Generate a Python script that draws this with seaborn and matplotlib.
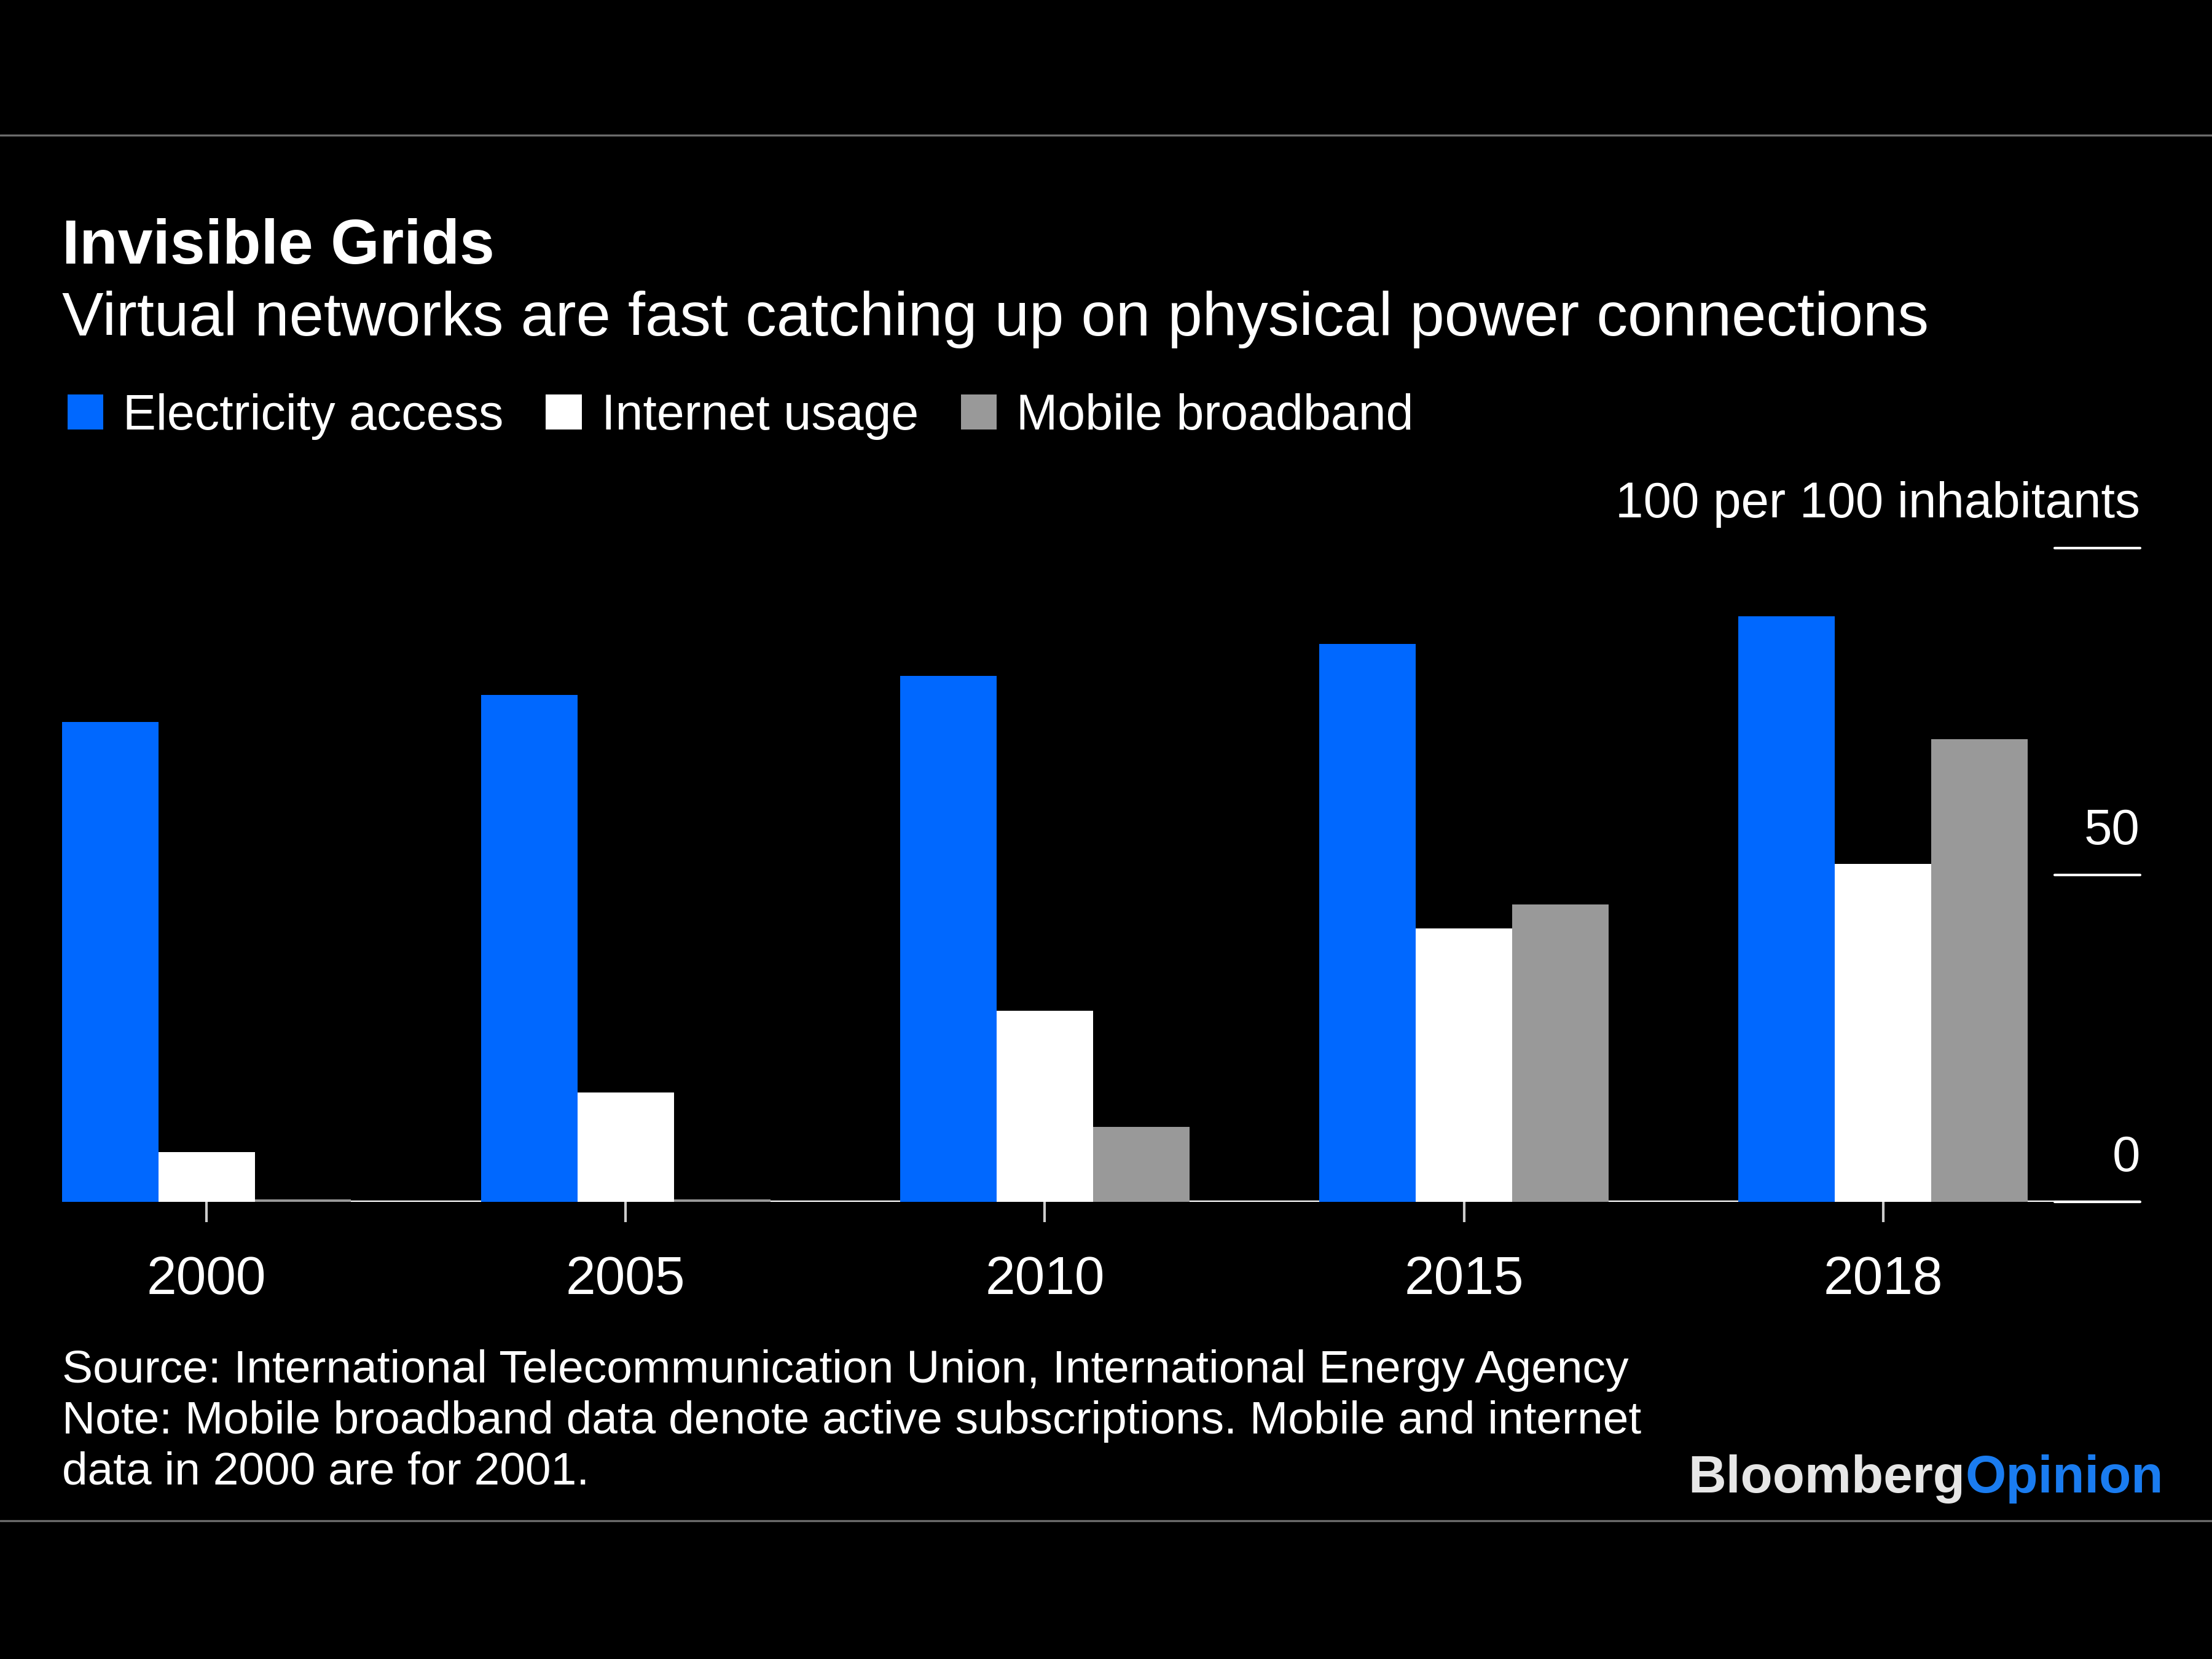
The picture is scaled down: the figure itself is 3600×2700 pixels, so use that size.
import matplotlib
matplotlib.use("Agg")
import matplotlib.pyplot as plt
from matplotlib.patches import Patch
from matplotlib.lines import Line2D
import seaborn as sns
import pandas as pd

years = ["2000", "2005", "2010", "2015", "2018"]
series = ["Electricity access", "Internet usage", "Mobile broadband"]
electricity = [73.4, 77.5, 80.5, 85.3, 89.6]
internet = [7.6, 16.7, 29.2, 41.8, 51.7]
mobile = [0.4, 0.4, 11.5, 45.5, 70.8]
yticks = [0, 50, 100]
ytick_labels = ["0", "50", "100 per 100 inhabitants"]
colors = ["#0068ff", "#ffffff", "#999999"]

title = "Invisible Grids"
subtitle = "Virtual networks are fast catching up on physical power connections"
source_lines = [
    "Source: International Telecommunication Union, International Energy Agency",
    "Note: Mobile broadband data denote active subscriptions. Mobile and internet",
    "data in 2000 are for 2001.",
]

df = pd.DataFrame({
    "year": years * 3,
    "series": [series[0]] * 5 + [series[1]] * 5 + [series[2]] * 5,
    "value": electricity + internet + mobile,
})

sns.set_theme(style="white")
plt.rcParams["font.family"] = ["Liberation Sans", "DejaVu Sans"]
BG = "#000000"
FG = "#ffffff"

fig = plt.figure(figsize=(12, 9), dpi=300, facecolor=BG)
ax = fig.add_axes([0.028, 0.2756, 0.9395, 0.394])
ax.set_facecolor(BG)

sns.barplot(data=df, x="year", y="value", hue="series", hue_order=series,
            palette=colors, saturation=1, width=0.69, dodge=True, gap=0,
            linewidth=0, legend=False, ax=ax, zorder=3)

ax.set_xlim(-0.345, 4.613)
ax.set_ylim(0, 100)
for s in ax.spines.values():
    s.set_visible(False)
ax.axhline(0, color=FG, lw=1.3, zorder=2)

# right-side value ticks
trans = ax.get_yaxis_transform()
for v, lab in zip(yticks, ytick_labels):
    ax.plot([0.959, 1.0], [v, v], transform=trans, color=FG, lw=1.0,
            clip_on=False, zorder=4)
    ax.annotate(lab, xy=(1.0, v), xycoords=trans, xytext=(0, 8),
                textcoords="offset points", ha="right", va="bottom",
                color=FG, fontsize=19.6, annotation_clip=False)
ax.set_yticks([])
ax.set_ylabel("")
ax.set_xlabel("")
ax.tick_params(axis="x", colors="#cccccc", length=8, width=1.0, direction="out",
               pad=13, labelsize=21, labelcolor=FG, bottom=True)
ax.grid(False)

# titles
fig.text(0.028, 0.841, title, color=FG, fontsize=24.5, fontweight="bold",
         ha="left", va="baseline")
fig.text(0.028, 0.7977, subtitle, color=FG, fontsize=24.3,
         ha="left", va="baseline")

handles = [Patch(facecolor=c, edgecolor="none", label=l) for c, l in zip(colors, series)]
leg = fig.legend(handles=handles, loc="center left", bbox_to_anchor=(0.0305, 0.749),
                 ncol=3, frameon=False, fontsize=19.4, handlelength=0.72,
                 handleheight=0.72, handletextpad=0.4, columnspacing=0.85,
                 borderaxespad=0, borderpad=0)
for t in leg.get_texts():
    t.set_color(FG)

# horizontal rules
fig.add_artist(Line2D([0, 1], [0.9185, 0.9185], transform=fig.transFigure,
                      color="#6b6b6b", lw=0.8))
fig.add_artist(Line2D([0, 1], [0.0833, 0.0833], transform=fig.transFigure,
                      color="#6b6b6b", lw=0.8))

# source / note
for i, line in enumerate(source_lines):
    fig.text(0.028, 0.1665 - i * 0.0306, line, color=FG, fontsize=18,
             ha="left", va="baseline")

# logo
t2 = fig.text(0.978, 0.1004, "Opinion", color="#1a7cf0", fontsize=20.5,
              fontweight="bold", ha="right", va="baseline")
fig.canvas.draw()
bb = t2.get_window_extent()
x_left = fig.transFigure.inverted().transform((bb.x0, bb.y0))[0]
fig.text(x_left, 0.1004, "Bloomberg", color="#e6e6e6", fontsize=20.5,
         fontweight="bold", ha="right", va="baseline")

fig.savefig("out.png", dpi=300, facecolor=BG)
